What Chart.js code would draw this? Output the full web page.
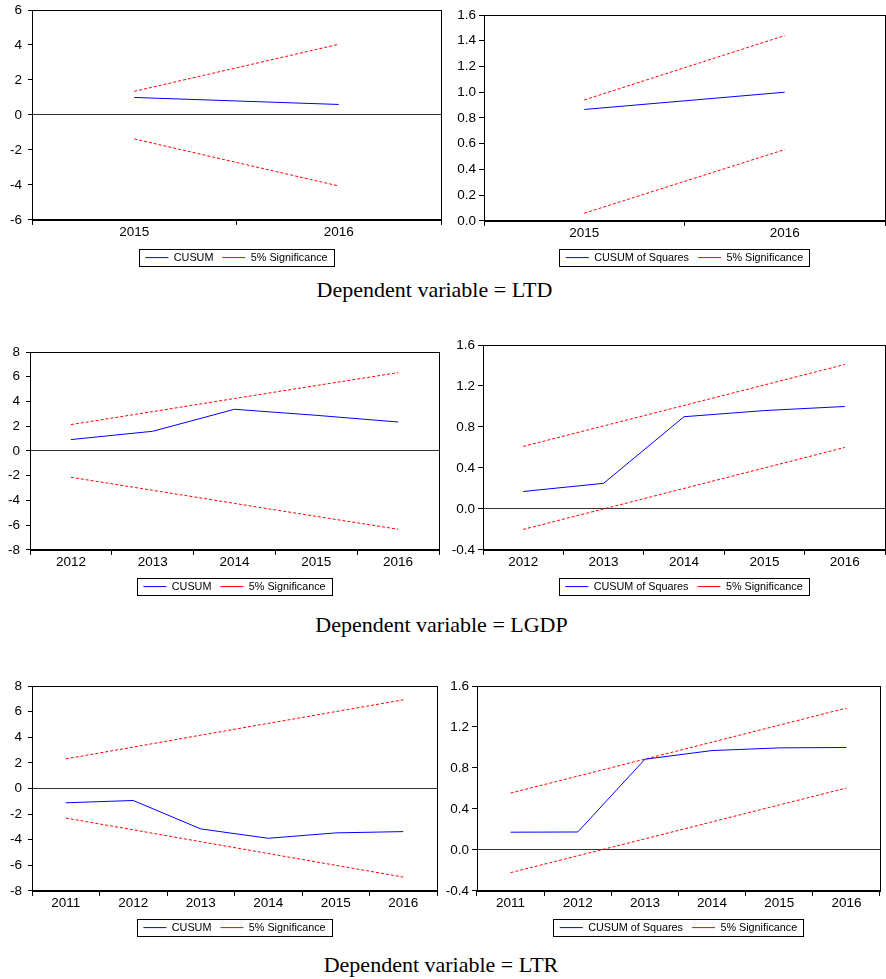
<!DOCTYPE html>
<html><head><meta charset="utf-8">
<script src="https://cdn.jsdelivr.net/npm/chart.js@4.4.0/dist/chart.umd.min.js"></script>
<style>
html,body{margin:0;padding:0;background:#fff;}
body{width:886px;height:979px;position:relative;overflow:hidden;}
canvas{position:absolute;}
.cap{position:absolute;font-family:"Liberation Serif","Times New Roman",serif;font-size:22px;line-height:22px;white-space:nowrap;color:#000;transform:translateX(-50%);}
</style></head><body>
<canvas id="c1"></canvas><canvas id="c2"></canvas>
<canvas id="c3"></canvas><canvas id="c4"></canvas>
<canvas id="c5"></canvas><canvas id="c6"></canvas>
<div class="cap" style="left:434.5px;top:278.6px">Dependent variable = LTD</div>
<div class="cap" style="left:441.5px;top:613.6px">Dependent variable = LGDP</div>
<div class="cap" style="left:441px;top:954.3px">Dependent variable = LTR</div>
<script>
// ---------- data ----------
const ltdYears = ['2015', '2016'];
const ltdCusum = [1.0, 0.6];
const ltdCusumUpper = [1.35, 4.04];
const ltdCusumLower = [-1.37, -4.06];
const ltdCusumSq = [0.866, 1.0];
const ltdCusumSqUpper = [0.94, 1.44];
const ltdCusumSqLower = [0.06, 0.554];

const lgdpYears = ['2012', '2013', '2014', '2015', '2016'];
const lgdpCusum = [0.92, 1.59, 3.37, 2.88, 2.34];
const lgdpCusumUpper = [2.13, 3.18, 4.24, 5.29, 6.33];
const lgdpCusumLower = [-2.13, -3.18, -4.24, -5.29, -6.33];
const lgdpCusumSq = [0.17, 0.25, 0.90, 0.96, 1.0];
const lgdpCusumSqUpper = [0.61, 0.81, 1.01, 1.21, 1.41];
const lgdpCusumSqLower = [-0.2, 0.0, 0.2, 0.4, 0.6];

const ltrYears = ['2011', '2012', '2013', '2014', '2015', '2016'];
const ltrCusum = [-1.12, -0.94, -3.16, -3.89, -3.47, -3.37];
const ltrCusumUpper = [2.31, 3.23, 4.16, 5.08, 6.00, 6.92];
const ltrCusumLower = [-2.31, -3.23, -4.16, -5.08, -6.00, -6.92];
const ltrCusumSq = [0.173, 0.175, 0.885, 0.97, 0.996, 1.0];
const ltrCusumSqUpper = [0.555, 0.72, 0.886, 1.052, 1.218, 1.384];
const ltrCusumSqLower = [-0.222, -0.057, 0.108, 0.274, 0.439, 0.604];

const ticksCusum6 = [-6, -4, -2, 0, 2, 4, 6];
const ticksCusum8 = [-8, -6, -4, -2, 0, 2, 4, 6, 8];
const ticksSq02 = [0, 0.2, 0.4, 0.6, 0.8, 1.0, 1.2, 1.4, 1.6];
const ticksSq04 = [-0.4, 0, 0.4, 0.8, 1.2, 1.6];

const labelCusum = 'CUSUM';
const labelCusumSq = 'CUSUM of Squares';
const labelSig = '5% Significance';

// ---------- layout (positions only) ----------
const LEG_FONT = 10.8, LEG_PAD = 9, TOP_PAD = 16;
const panels = [
  {id:'c1', cl:0,   l:32,  r:441, t:10,  b:219, lt:248, years:ltdYears,  s:ltdCusum,   up:ltdCusumUpper,   lo:ltdCusumLower,   ticks:ticksCusum6, name:labelCusum,   dec:0},
  {id:'c2', cl:443, l:484, r:885, t:15,  b:220, lt:248, years:ltdYears,  s:ltdCusumSq, up:ltdCusumSqUpper, lo:ltdCusumSqLower, ticks:ticksSq02,   name:labelCusumSq, dec:1},
  {id:'c3', cl:0,   l:30,  r:439, t:352, b:549, lt:577, years:lgdpYears, s:lgdpCusum,  up:lgdpCusumUpper,  lo:lgdpCusumLower,  ticks:ticksCusum8, name:labelCusum,   dec:0},
  {id:'c4', cl:443, l:483, r:885, t:345, b:549, lt:577, years:lgdpYears, s:lgdpCusumSq,up:lgdpCusumSqUpper,lo:lgdpCusumSqLower, ticks:ticksSq04,   name:labelCusumSq, dec:1},
  {id:'c5', cl:0,   l:32,  r:437, t:686, b:890, lt:918, years:ltrYears,  s:ltrCusum,   up:ltrCusumUpper,   lo:ltrCusumLower,   ticks:ticksCusum8, name:labelCusum,   dec:0},
  {id:'c6', cl:443, l:477, r:880, t:686, b:890, lt:918, years:ltrYears,  s:ltrCusumSq, up:ltrCusumSqUpper, lo:ltrCusumSqLower, ticks:ticksSq04,   name:labelCusumSq, dec:1}
];

const framePlugin = {
  id: 'frame',
  afterDraw(chart) {
    const {ctx, chartArea: a} = chart;
    ctx.save();
    ctx.strokeStyle = '#000';
    ctx.lineWidth = 1;
    ctx.setLineDash([]);
    ctx.strokeRect(Math.round(a.left) + 0.5, Math.round(a.top) + 0.5, Math.round(a.right - a.left), Math.round(a.bottom - a.top));
    const hb = chart.legend && chart.legend.legendHitBoxes;
    if (hb && hb.length) {
      const l = Math.min(...hb.map(h => h.left)) - 6.5;
      const r = Math.max(...hb.map(h => h.left + h.width)) + 6;
      const t = hb[0].top - 3.3, b = hb[0].top + hb[0].height + 3.3;
      ctx.strokeRect(Math.round(l) + 0.5, Math.round(t) + 0.5, Math.round(r - l), Math.round(b - t));
    }
    ctx.restore();
  }
};

const font = {family: '"Liberation Sans", Arial, sans-serif', size: 13.5};

panels.forEach(p => {
  const cv = document.getElementById(p.id);
  const ct = p.t - TOP_PAD;
  const hx = p.lt + 3.3 - LEG_PAD - p.b;
  const legH = LEG_FONT + LEG_PAD + 10;
  const ch = Math.round(p.b + hx + legH - ct) + 1;
  cv.style.left = p.cl + 'px';
  cv.style.top = ct + 'px';
  cv.width = 443; cv.height = ch;
  const yw = p.l - p.cl;
  const isSq = p.dec === 1;
  new Chart(cv, {
    type: 'line',
    data: {
      labels: p.years,
      datasets: [
        {label: p.name, data: p.s, borderColor: '#0000ff', borderWidth: 1, pointRadius: 0, tension: 0, fill: false},
        {label: labelSig, data: p.up, borderColor: '#ff0000', borderWidth: 1, borderDash: [3, 2], pointRadius: 0, tension: 0, fill: false},
        {label: labelSig, data: p.lo, borderColor: '#ff0000', borderWidth: 1, borderDash: [3, 2], pointRadius: 0, tension: 0, fill: false}
      ]
    },
    options: {
      responsive: false,
      animation: false,
      devicePixelRatio: 1,
      layout: {padding: {top: TOP_PAD, right: p.cl + 443 - p.r, left: 0, bottom: 0}},
      plugins: {
        tooltip: {enabled: false},
        legend: {
          display: true, position: 'bottom', fullSize: false, align: 'center',
          labels: {
            usePointStyle: true, pointStyle: 'line', pointStyleWidth: 23,
            font: {family: '"Liberation Sans", Arial, sans-serif', size: LEG_FONT},
            color: '#000', padding: LEG_PAD,
            filter: (item) => item.datasetIndex !== 2
          }
        }
      },
      scales: {
        x: {
          type: 'category', offset: true,
          grid: {offset: true, drawOnChartArea: false, drawTicks: true, tickLength: 5, tickColor: '#000', color: '#000'},
          border: {display: true, color: '#000', width: 1},
          ticks: {font: font, color: '#000', padding: -1, maxRotation: 0, autoSkip: false},
          afterFit: (s) => { s.height = hx; }
        },
        y: {
          min: p.ticks[0], max: p.ticks[p.ticks.length - 1],
          afterBuildTicks: (s) => { s.ticks = p.ticks.map(v => ({value: v})); },
          grid: {
            drawOnChartArea: true, drawTicks: true, tickLength: isSq ? 5 : 4, tickColor: '#000',
            color: (c) => (c.tick && Math.abs(c.tick.value) < 1e-9) ? '#333' : 'rgba(0,0,0,0)',
            lineWidth: 1
          },
          border: {display: true, color: '#000', width: 1},
          ticks: {
            font: font, color: '#000', padding: isSq ? 3 : 6,
            callback: (v) => Number(v).toFixed(p.dec)
          },
          afterFit: (s) => { s.width = yw; }
        }
      }
    },
    plugins: [framePlugin]
  });
});
</script>
</body></html>
